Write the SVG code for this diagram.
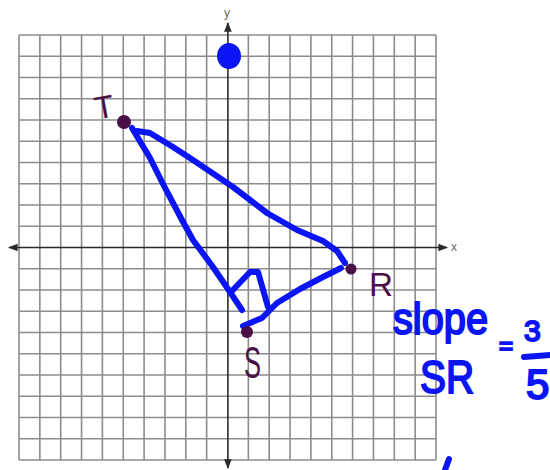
<svg xmlns="http://www.w3.org/2000/svg" width="550" height="470" viewBox="0 0 550 470">
<defs>
<style>
.grid line{stroke:#8c8c8c;stroke-width:1.6}
.axis{stroke:#2a2a2a;stroke-width:1.6;fill:none}
.ink{stroke:#0a14f5;stroke-width:6;fill:none;stroke-linecap:round;stroke-linejoin:round}
.pt{fill:#4a0f45}
.lbl{fill:#4a0f45;font-family:"Liberation Sans",Arial,sans-serif}
.hw{fill:#0a14f5;stroke:#0a14f5;stroke-width:2;font-family:"Liberation Sans",Arial,sans-serif}
.ax{fill:#666;font-family:"Liberation Sans",Arial,sans-serif;font-size:12px}
</style>
<marker id="ah" viewBox="0 0 10 10" refX="9" refY="5" markerWidth="6" markerHeight="6" orient="auto-start-reverse"><path d="M0,1 L10,5 L0,9 z" fill="#2a2a2a"/></marker>
</defs>
<rect width="550" height="470" fill="#fff"/>
<g id="grid" class="grid">
<line x1="19" y1="35" x2="19" y2="460"/><line x1="39.85" y1="35" x2="39.85" y2="460"/><line x1="60.7" y1="35" x2="60.7" y2="460"/><line x1="81.55" y1="35" x2="81.55" y2="460"/><line x1="102.4" y1="35" x2="102.4" y2="460"/><line x1="123.25" y1="35" x2="123.25" y2="460"/><line x1="144.1" y1="35" x2="144.1" y2="460"/><line x1="164.95" y1="35" x2="164.95" y2="460"/><line x1="185.8" y1="35" x2="185.8" y2="460"/><line x1="206.65" y1="35" x2="206.65" y2="460"/><line x1="248.35" y1="35" x2="248.35" y2="460"/><line x1="269.2" y1="35" x2="269.2" y2="460"/><line x1="290.05" y1="35" x2="290.05" y2="460"/><line x1="310.9" y1="35" x2="310.9" y2="460"/><line x1="331.75" y1="35" x2="331.75" y2="460"/><line x1="352.6" y1="35" x2="352.6" y2="460"/><line x1="373.45" y1="35" x2="373.45" y2="460"/><line x1="394.3" y1="35" x2="394.3" y2="460"/><line x1="415.15" y1="35" x2="415.15" y2="460"/><line x1="436" y1="35" x2="436" y2="460"/>
<line x1="19" y1="35" x2="436" y2="35"/><line x1="19" y1="56.25" x2="436" y2="56.25"/><line x1="19" y1="77.5" x2="436" y2="77.5"/><line x1="19" y1="98.75" x2="436" y2="98.75"/><line x1="19" y1="120" x2="436" y2="120"/><line x1="19" y1="141.25" x2="436" y2="141.25"/><line x1="19" y1="162.5" x2="436" y2="162.5"/><line x1="19" y1="183.75" x2="436" y2="183.75"/><line x1="19" y1="205" x2="436" y2="205"/><line x1="19" y1="226.25" x2="436" y2="226.25"/><line x1="19" y1="268.75" x2="436" y2="268.75"/><line x1="19" y1="290" x2="436" y2="290"/><line x1="19" y1="311.25" x2="436" y2="311.25"/><line x1="19" y1="332.5" x2="436" y2="332.5"/><line x1="19" y1="353.75" x2="436" y2="353.75"/><line x1="19" y1="375" x2="436" y2="375"/><line x1="19" y1="396.25" x2="436" y2="396.25"/><line x1="19" y1="417.5" x2="436" y2="417.5"/><line x1="19" y1="438.75" x2="436" y2="438.75"/><line x1="19" y1="460" x2="436" y2="460"/>
</g>
<g id="axes">
<line class="axis" x1="9" y1="247.5" x2="447" y2="247.5" marker-start="url(#ah)" marker-end="url(#ah)"/>
<line class="axis" x1="227.9" y1="23" x2="227.9" y2="468" marker-start="url(#ah)" marker-end="url(#ah)"/>
<text class="ax" x="451" y="251">x</text>
<text class="ax" x="224" y="17">y</text>
</g>
<g id="connectors">
<path class="ink" d="M132,128 L150,158 L163,184 L182,220 L193,240 L213,267 L230,292 L242,310"/>
<path class="ink" d="M231,292 L250,272 L258,272 L268,307"/>
<path class="ink" d="M243,326 L262,318 L277,303 L300,289 L323,277 L341,268"/>
<path class="ink" d="M137,131 L150,133 L173,147 L193,160 L233,187 L267,213 L297,230 L323,241 L337,251 L345,263"/>
</g>
<g id="blue-dot"><ellipse cx="229" cy="56" rx="12" ry="13" fill="#0a14f5"/></g>
<g id="T"><circle class="pt" cx="124" cy="122" r="7"/><text class="lbl" x="94" y="118" font-size="32" transform="rotate(-10 105 105)">T</text></g>
<g id="R"><circle class="pt" cx="351" cy="269" r="5.5"/><text class="lbl" x="369" y="296" font-size="34" textLength="24" lengthAdjust="spacingAndGlyphs">R</text></g>
<g id="S"><circle class="pt" cx="247" cy="332" r="6"/><text class="lbl" x="244" y="378" font-size="44" textLength="17" lengthAdjust="spacingAndGlyphs">S</text></g>
<g id="note">
<text class="hw" x="393" y="334" font-size="44" textLength="95" lengthAdjust="spacingAndGlyphs">slope</text>
<text class="hw" x="420" y="393" font-size="46" textLength="54" lengthAdjust="spacingAndGlyphs">SR</text>
<text class="hw" x="499" y="354" font-size="24">=</text>
<text class="hw" x="524" y="341" font-size="30">3</text>
<path class="ink" d="M524,357 L550,355"/>
<text class="hw" x="526" y="399" font-size="42">5</text>
<path class="ink" d="M449,459 L445,470"/>
</g>
</svg>
